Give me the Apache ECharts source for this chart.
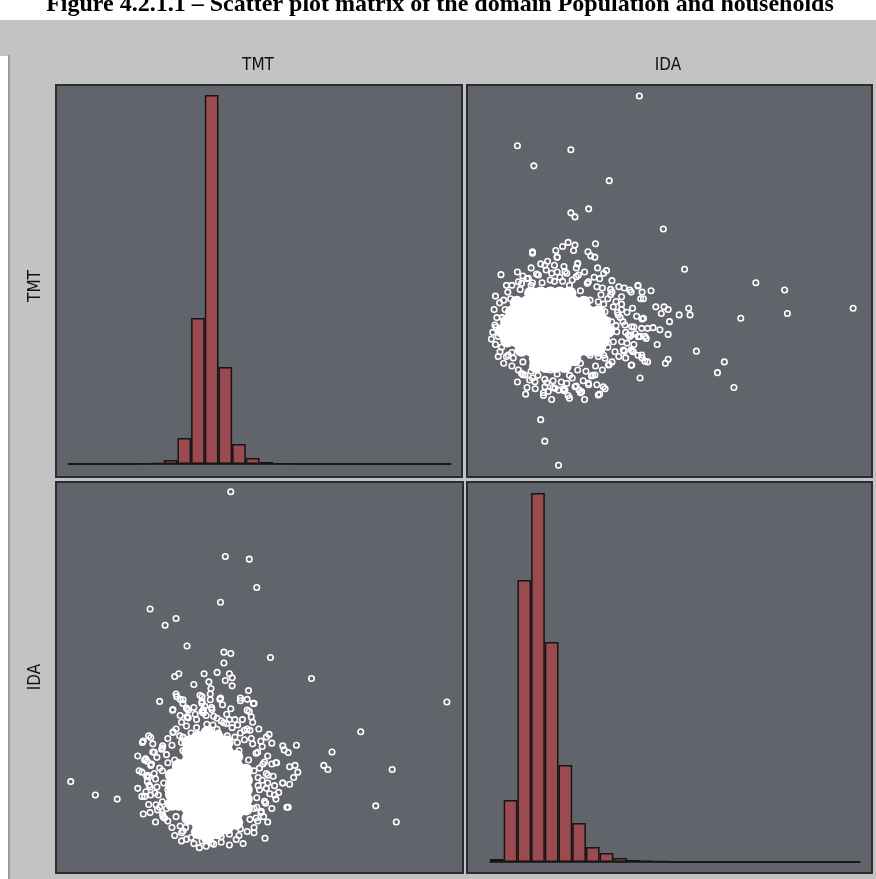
<!DOCTYPE html>
<html><head><meta charset="utf-8">
<script src="https://cdn.jsdelivr.net/npm/echarts@6/dist/echarts.min.js"></script>
<style>html,body{margin:0;padding:0;background:#fff}#c{width:876px;height:879px}</style>
</head><body><div id="c"></div>
<script>
const titleText = 'Figure 4.2.1.1 \u2013 Scatter plot matrix of the domain Population and households';
const variables = ['TMT', 'IDA'];

// Histogram of TMT (28 bins)
const tmtBinStarts = ['0','1','2','3','4','5','6','7','8','9','10','11','12','13','14','15','16','17','18','19','20','21','22','23','24','25','26','27'];
const tmtCounts = [0,0,0,0,0,2,4,16,104,584,1476,388,80,24,8,2,2,0,0,0,0,0,0,0,0,0,0,0];

// Histogram of IDA (27 bins)
const idaBinStarts = ['0','1','2','3','4','5','6','7','8','9','10','11','12','13','14','15','16','17','18','19','20','21','22','23','24','25','26'];
const idaCounts = [12,248,1128,1476,880,388,156,60,36,16,8,6,4,0,0,0,0,0,0,0,0,0,0,0,0,0,0];

// Heavily overlapping observations in the centre of the cloud: [IDA, TMT]
const densePoints = [
  [3.35,7.6],[4.05,7.6],[4.75,7.6],[5.45,7.6],
  [3.35,8.1],[4.05,8.1],[4.75,8.1],[5.45,8.1],[6.15,8.1],
  [2.3,8.8],[3.0,8.8],[3.7,8.8],[4.4,8.8],[5.1,8.8],[5.8,8.8],[6.5,8.8],[7.2,8.8],[7.9,8.8],
  [1.25,9.5],[1.95,9.5],[2.65,9.5],[3.35,9.5],[4.05,9.5],[4.75,9.5],[5.45,9.5],[6.15,9.5],[6.85,9.5],[7.55,9.5],[8.25,9.5],
  [0.9,10.2],[1.6,10.2],[2.3,10.2],[3.0,10.2],[3.7,10.2],[4.4,10.2],[5.1,10.2],[5.8,10.2],[6.5,10.2],[7.2,10.2],[7.9,10.2],[8.6,10.2],
  [1.25,10.9],[1.95,10.9],[2.65,10.9],[3.35,10.9],[4.05,10.9],[4.75,10.9],[5.45,10.9],[6.15,10.9],[6.85,10.9],[7.55,10.9],[8.25,10.9],
  [1.6,11.6],[2.3,11.6],[3.0,11.6],[3.7,11.6],[4.4,11.6],[5.1,11.6],[5.8,11.6],[6.5,11.6],[7.2,11.6],[7.9,11.6],
  [1.95,12.3],[2.65,12.3],[3.35,12.3],[4.05,12.3],[4.75,12.3],[5.45,12.3],[6.15,12.3],[6.85,12.3],
  [3.0,13.0],[3.7,13.0],[4.4,13.0],[5.1,13.0],[5.8,13.0]
];

// Individual observations: [IDA, TMT]
const points = [
  [10.9,27.7],[2.0,24.0],[5.9,23.7],[3.2,22.5],[8.7,21.4],[7.2,19.3],[5.9,19.0],[6.2,18.7],[12.65,17.8],
  [3.1,16.1],[4.8,16.2],[4.9,15.7],[5.3,16.5],[5.7,16.8],[6.2,16.6],[6.1,16.2],[7.7,16.7],[7.15,16.1],
  [7.35,15.8],[7.65,15.7],[4.2,15.4],[4.0,15.1],[6.4,15.2],[6.3,14.9],[0.8,14.4],[14.2,14.8],[19.4,13.8],
  [21.5,13.25],[26.5,11.9],[21.7,11.5],[18.3,11.15],[15.06,8.7],[17.1,7.9],[16.6,7.1],[17.8,6.0],
  [3.7,3.6],[4.0,2.0],[5.0,0.2],[0.1,9.6],[10.95,6.7],[8.4,5.9],[8.0,5.5],[7.2,6.2],[7.5,6.9],[6.6,5.6],
  [6.5,5.8],[3.9,5.4],[10.3,7.65],[11.1,8.2],[11.5,7.9],[12.8,7.8],[13.0,8.1],[12.2,9.2],[9.8,8.7],
  [10.4,8.7],[13.0,9.95],[13.1,10.9],[13.8,11.4],[14.5,11.9],[14.6,11.4],[12.1,12.0],[12.7,12.0],
  [13.0,11.8],[12.5,11.5],[11.75,13.2],[10.8,13.6],[11.1,13.1],[11.2,12.6],[9.8,13.4],[10.2,13.25],
  [9.6,12.75],[8.9,13.1],[11.2,11.15],[10.5,10.5],[10.95,9.8],[11.3,9.8],[10.2,9.8],[12.4,10.3],
  [11.9,10.45],[9.6,11.8],[8.5,14.7],[8.9,13.95],[8.3,14.5],[8.0,14.1],[8.7,7.7],[7.9,8.3],[1.2,8.3],
  [1.7,8.2],[2.3,7.05],[2.9,6.55],[3.3,5.9],[4.25,5.7],[5.0,5.8],[5.35,5.9],[5.8,6.9],[5.6,6.3],
  [0.45,10.5],[0.7,12.3],[1.0,12.5],[0.6,9.8],[0.85,9.0],[2.3,13.75],[2.7,14.1],[3.4,14.45],[4.1,14.75],
  [4.9,14.6],[5.6,14.5],[6.3,14.25],[7.1,13.75],[7.8,13.5],
  [2.07,13.87],[2.8,14.13],[3.53,14.37],[4.5,14.5],[5.47,14.62],[6.45,14.37],[7.18,13.87],
  [0.36,10.65],[0.73,8.66],[1.34,8.41],[2.07,7.3],[2.55,6.92],[3.28,6.43],[4.01,6.05],[4.74,5.93],
  [5.47,5.81],[6.2,6.05],[6.69,5.68],[7.18,6.31],[7.66,6.92],[7.9,5.44],[8.27,6.05],[8.64,7.67],
  [7.9,12.38],[8.39,11.64],[8.88,10.89],[9.25,10.15],[9.61,9.4],[9.12,8.66],[8.39,8.17],[9.36,11.39],
  [9.85,10.65],[10.34,10.52],[10.09,9.9],[10.82,9.78],[11.07,10.4],[9.73,8.79],[10.46,8.66],[11.07,8.41],
  [10.34,7.67],
  [7.4,6.85],[6.3,6.1],[5.7,5.4],[5.4,5.75],[4.6,6.0],[3.9,5.6],[4.15,6.35],[3.1,6.7],[2.4,6.95],
  [8.8,13.3],[7.85,14.9],[6.4,15.25],[5.4,15.0],[4.9,15.7],[3.1,16.0],[4.4,14.0],[3.1,13.8],[2.4,14.3],
  [11.3,7.95],[10.8,8.4],[10.3,8.8],[11.4,9.65],[11.5,10.4],[11.1,11.1],[10.0,11.6],[11.0,12.6],
  [10.3,13.1],[10.8,13.55],[8.3,8.4],[10.3,9.9],[9.7,10.9],[9.3,11.6],
  [1.0,10.6],[1.1,11.8],[1.5,12.6],[2.2,13.3],[3.0,13.6],[5.8,13.6],[6.6,13.2],[7.3,12.5],[7.8,11.5],
  [8.0,10.4],[7.8,9.3],[7.3,8.4],[6.6,7.8],[5.6,7.4],[4.4,7.3],[3.3,7.5],[2.4,7.9],[1.6,8.6],[1.1,9.5],
  [0.9,11.2],[8.4,9.8],[8.6,11.0],[8.3,12.2],[7.7,7.6],[9.0,9.4],[9.2,12.4],[4.7,13.9],[3.8,13.8],
  [8.1,12.9],[8.6,12.6],[9.0,12.0],[9.5,11.2],[9.9,10.1],[10.0,9.3],[9.4,8.3],[8.9,7.9],[8.2,7.3],
  [9.6,12.2],[10.4,11.9],[10.7,11.3],[9.2,10.6],[10.6,10.0],[10.5,9.2],[9.9,8.2],[8.6,9.0],[8.8,12.9],
  [9.4,13.5],[8.2,13.4],
  [1.6,7.6],[2.0,6.4],[2.7,6.0],[3.5,6.9],[4.0,6.6],[4.6,6.5],[5.2,6.4],[6.0,6.7],[6.8,6.5],[7.0,7.2],
  [7.8,6.2],[3.0,7.2],[4.9,7.0],[6.4,7.3],[5.8,5.2],[4.5,5.1],[6.9,5.1],[2.6,5.5],
  [1.6,13.6],[2.0,14.6],[3.0,14.9],[3.7,15.2],[4.7,15.1],[5.3,13.9],[6.0,14.0],[6.9,14.6],[7.6,14.2],
  [5.1,14.2],[1.3,13.1],
  [0.3,11.8],[0.5,11.2],[0.2,10.1],[0.4,9.2],[0.6,8.3],[1.0,7.8],[0.4,12.8],[1.2,13.6]
];

const PANEL = '#61646b';
const BAR = '#9b4b50';
const swap = arr => arr.map(p => [p[1], p[0]]);

const panelRects = [
  [56,85,406,392],[467,85,405,392],[56,482,407,391],[467,482,405,391]
];

const labelFont = '17px "DejaVu Sans Condensed", "DejaVu Sans", sans-serif';
const graphic = [
  {type:'rect', z:-10, shape:{x:0,y:20,width:876,height:36}, style:{fill:'#c3c3c3'}},
  {type:'rect', z:-10, shape:{x:8,y:55,width:868,height:824}, style:{fill:'#c3c3c3'}},
  {type:'line', z:-9, shape:{x1:9,y1:55,x2:9,y2:879}, style:{stroke:'#9c9c9c', lineWidth:2}},
  {type:'text', z:5, x:440, y:-7, style:{text:titleText, font:'bold 24px "Liberation Serif", "Times New Roman", serif', fill:'#000', textAlign:'center', textVerticalAlign:'top'}},
  {type:'text', z:5, x:258, y:66, style:{text:variables[0], font:labelFont, fill:'#111', textAlign:'center', textVerticalAlign:'middle'}},
  {type:'text', z:5, x:668, y:66, style:{text:variables[1], font:labelFont, fill:'#111', textAlign:'center', textVerticalAlign:'middle'}},
  {type:'text', z:5, x:36, y:286, rotation:Math.PI/2, style:{text:variables[0], font:labelFont, fill:'#111', textAlign:'center', textVerticalAlign:'middle'}},
  {type:'text', z:5, x:36, y:677, rotation:Math.PI/2, style:{text:variables[1], font:labelFont, fill:'#111', textAlign:'center', textVerticalAlign:'middle'}}
];
panelRects.forEach(r => {
  graphic.push({type:'rect', z:-5, shape:{x:r[0],y:r[1],width:r[2],height:r[3]}, style:{fill:PANEL, stroke:'#2b2c2e', lineWidth:2}});
});

const ringStyle = {color:'rgba(0,0,0,0)', borderColor:'#ffffff', borderWidth:1.6, opacity:1};
const denseStyle = {color:'#ffffff', opacity:1};

const option = {
  backgroundColor:'#ffffff',
  animation:false,
  graphic: graphic,
  grid: [
    {left:68, top:85, width:383, height:379},
    {left:490, top:92, width:370, height:376},
    {left:68, top:485, width:383, height:364},
    {left:490, top:482, width:370, height:380}
  ],
  xAxis: [
    {type:'category', gridIndex:0, data:tmtBinStarts, axisLine:{lineStyle:{color:'#151515', width:1.5}}, axisTick:{show:false}, axisLabel:{show:false}},
    {type:'value', gridIndex:1, min:0, max:27, show:false},
    {type:'value', gridIndex:2, min:0, max:28, show:false},
    {type:'category', gridIndex:3, data:idaBinStarts, axisLine:{lineStyle:{color:'#151515', width:1.5}}, axisTick:{show:false}, axisLabel:{show:false}}
  ],
  yAxis: [
    {type:'value', gridIndex:0, min:0, max:1516, show:false},
    {type:'value', gridIndex:1, min:0, max:28, show:false},
    {type:'value', gridIndex:2, min:0, max:27, show:false},
    {type:'value', gridIndex:3, min:0, max:1520, show:false}
  ],
  series: [
    {type:'bar', xAxisIndex:0, yAxisIndex:0, data:tmtCounts, barCategoryGap:'0%', silent:true,
     itemStyle:{color:BAR, borderColor:'#151515', borderWidth:1.5}},
    {type:'scatter', xAxisIndex:1, yAxisIndex:1, data:densePoints, symbol:'circle', symbolSize:14, silent:true, itemStyle:denseStyle},
    {type:'scatter', xAxisIndex:1, yAxisIndex:1, data:points, symbol:'circle', symbolSize:5.5, silent:true, itemStyle:ringStyle},
    {type:'scatter', xAxisIndex:2, yAxisIndex:2, data:swap(densePoints), symbol:'circle', symbolSize:14, silent:true, itemStyle:denseStyle},
    {type:'scatter', xAxisIndex:2, yAxisIndex:2, data:swap(points), symbol:'circle', symbolSize:5.5, silent:true, itemStyle:ringStyle},
    {type:'bar', xAxisIndex:3, yAxisIndex:3, data:idaCounts, barCategoryGap:'0%', silent:true,
     itemStyle:{color:BAR, borderColor:'#151515', borderWidth:1.5}}
  ]
};
const chart = echarts.init(document.getElementById('c'), null, {renderer:'canvas'});
chart.setOption(option);
</script>
</body></html>
